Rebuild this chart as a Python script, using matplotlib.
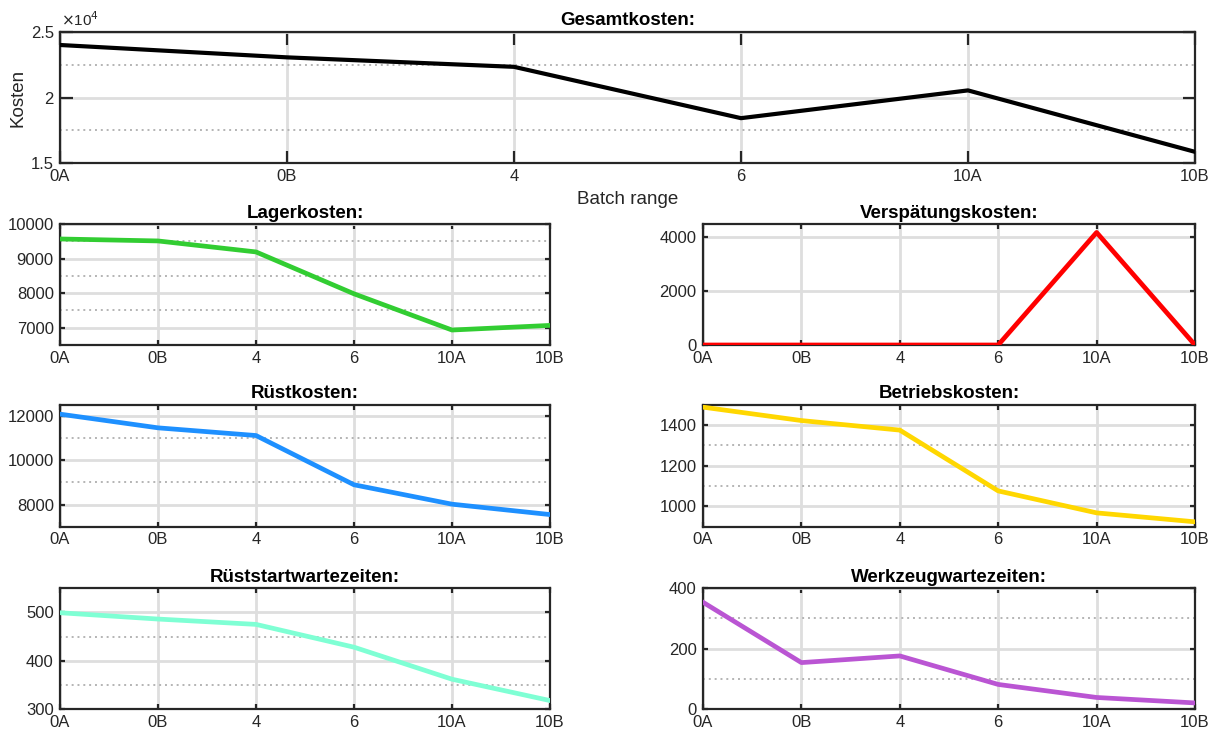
import matplotlib
matplotlib.use("Agg")
import matplotlib.pyplot as plt
from matplotlib.ticker import FixedLocator

plt.rcParams['font.family'] = ['Liberation Sans', 'DejaVu Sans']

batches = ["0A", "0B", "4", "6", "10A", "10B"]

gesamtkosten = [23990, 23050, 22330, 18430, 20540, 15870]
lagerkosten = [9567, 9510, 9192, 7981, 6933, 7067]
verspaetungskosten = [0, 0, 0, 0, 4186, 0]
ruestkosten = [12075, 11457, 11110, 8890, 8015, 7547]
betriebskosten = [1488, 1422, 1375, 1076, 968, 924]
ruststartwartezeiten = [499, 486, 475, 428, 362, 318]
werkzeugwartezeiten = [353, 154, 176, 82, 39, 21]

W, H = 1215, 735
fig = plt.figure(figsize=(W / 100, H / 100), dpi=100)

DARK = "#262626"
GRID = "#dedede"
MINOR = "#b4b4b4"
FS = 12
FS_TITLE = 13.5


def box(px_left, px_top, px_right, px_bottom):
    return [px_left / W, 1 - px_bottom / H, (px_right - px_left) / W, (px_bottom - px_top) / H]


def style(ax, title, ylim, yticks, minor, ticklen, yticklabels=None):
    x = range(len(batches))
    ax.set_xlim(0, len(batches) - 1)
    ax.set_xticks(list(x))
    ax.set_xticklabels(batches)
    ax.set_ylim(*ylim)
    ax.set_yticks(yticks)
    if yticklabels is not None:
        ax.set_yticklabels(yticklabels)
    ax.yaxis.set_minor_locator(FixedLocator(minor))
    ax.grid(True, which='major', color=GRID, linewidth=2.0, linestyle='-')
    ax.grid(True, which='minor', axis='y', color=MINOR, linewidth=1.4, linestyle=(0, (1, 2)))
    ax.set_axisbelow(True)
    for s in ax.spines.values():
        s.set_color(DARK)
        s.set_linewidth(1.6)
    ax.tick_params(which='major', direction='in', top=True, right=True, length=ticklen,
                   width=1.6, color=DARK, labelcolor=DARK, labelsize=FS)
    ax.tick_params(axis='x', which='major', pad=4)
    ax.tick_params(axis='y', which='major', pad=4.5)
    ax.tick_params(which='minor', length=0, left=False, right=False)
    ax.set_title(title, fontsize=FS_TITLE, fontweight='bold', pad=4.5)


# overall costs
ax0 = fig.add_axes(box(60, 31.7, 1195, 163.3))
ax0.plot(range(len(batches)), gesamtkosten, color='black', linewidth=3.0, zorder=3)
style(ax0, "Gesamtkosten:", (15000, 25000), [15000, 20000, 25000], [17500, 22500], 9,
      ["1.5", "2", "2.5"])
ax0.set_ylabel("Kosten", fontsize=FS_TITLE, color=DARK, labelpad=3)
ax0.set_xlabel("Batch range", fontsize=FS_TITLE, color=DARK, labelpad=5)
ax0.annotate(r"$\times$10$^4$", xy=(0, 1), xycoords='axes fraction', xytext=(1, 2),
             textcoords='offset points', ha='left', va='bottom', fontsize=11, color=DARK)

panels = [
    ("Lagerkosten:", lagerkosten, "#32cd32", (6500, 10000), [7000, 8000, 9000, 10000], [7500, 8500, 9500],
     (60, 224, 550, 345)),
    ("Verspätungskosten:", verspaetungskosten, "#ff0000", (0, 4500), [0, 2000, 4000], [],
     (703, 224, 1195, 345)),
    ("Rüstkosten:", ruestkosten, "#1e90ff", (7000, 12500), [8000, 10000, 12000], [9000, 11000],
     (60, 404.7, 550, 526.7)),
    ("Betriebskosten:", betriebskosten, "#ffd700", (900, 1500), [1000, 1200, 1400], [1100, 1300],
     (703, 404.7, 1195, 526.7)),
    ("Rüststartwartezeiten:", ruststartwartezeiten, "#7fffd4", (300, 550), [300, 400, 500], [350, 450],
     (60, 588, 550, 709.3)),
    ("Werkzeugwartezeiten:", werkzeugwartezeiten, "#ba55d3", (0, 400), [0, 200, 400], [100, 300],
     (703, 588, 1195, 709.3)),
]

for title, values, color, ylim, yt, mn, (l, t, r, b) in panels:
    ax = fig.add_axes(box(l, t, r, b))
    ax.plot(range(len(batches)), values, color=color, linewidth=3.4, zorder=3)
    style(ax, title, ylim, yt, mn, 3.8)

fig.savefig("out.png", dpi=100, facecolor='white')
